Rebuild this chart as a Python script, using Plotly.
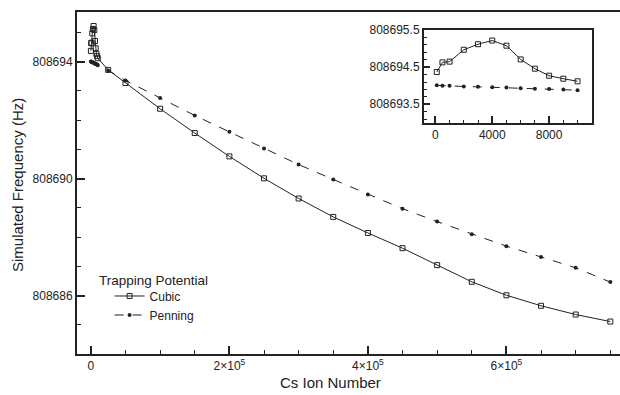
import plotly.graph_objects as go

# ---- data ----
n_small = [100, 500, 1000, 2000, 3000, 4000, 5000, 6000, 7000, 8000, 9000, 10000]
cubic_small = [808694.37, 808694.63, 808694.65, 808694.97, 808695.12, 808695.22,
               808695.08, 808694.71, 808694.46, 808694.27, 808694.19, 808694.12]
penning_small = [808694.01, 808694.00, 808694.00, 808693.98, 808693.97, 808693.96,
                 808693.95, 808693.93, 808693.92, 808693.91, 808693.90, 808693.88]

n_large = [25000, 50000, 100000, 150000, 200000, 250000, 300000, 350000, 400000,
           450000, 500000, 550000, 600000, 650000, 700000, 750000]
cubic_large = [808693.72, 808693.27, 808692.39, 808691.56, 808690.76, 808690.01,
               808689.32, 808688.69, 808688.14, 808687.62, 808687.04, 808686.47,
               808686.01, 808685.65, 808685.35, 808685.11]
penning_large = [808693.70, 808693.36, 808692.76, 808692.16, 808691.60, 808691.03,
                 808690.48, 808689.97, 808689.46, 808688.97, 808688.53, 808688.10,
                 808687.69, 808687.32, 808686.95, 808686.46]

x_tickvals = [0, 200000, 400000, 600000]
x_ticktext = ["0", "2×10<sup>5</sup>", "4×10<sup>5</sup>", "6×10<sup>5</sup>"]
y_tickvals = [808686, 808690, 808694]
inset_x_tickvals = [0, 4000, 8000]
inset_y_tickvals = [808693.5, 808694.5, 808695.5]

FONT = "Liberation Sans, Arial, sans-serif"
INK = "#222222"

n_all = n_small + n_large
cubic_all = cubic_small + cubic_large
penning_all = penning_small + penning_large

fig = go.Figure()

cubic_style = dict(mode="lines+markers", line=dict(color=INK, width=1),
                   marker=dict(symbol="square-open", size=5, color=INK,
                               line=dict(width=1, color=INK)))
penning_style = dict(mode="lines+markers", line=dict(color=INK, width=1, dash="dash"),
                     marker=dict(symbol="circle", size=4, color=INK))

fig.add_trace(go.Scatter(x=n_all, y=cubic_all, name="Cubic", **cubic_style))
fig.add_trace(go.Scatter(x=n_all, y=penning_all, name="Penning", **penning_style))
fig.add_trace(go.Scatter(x=n_small, y=cubic_small, showlegend=False,
                         xaxis="x2", yaxis="y2", **cubic_style))
fig.add_trace(go.Scatter(x=n_small, y=penning_small, showlegend=False,
                         xaxis="x2", yaxis="y2", **penning_style))

axis_common = dict(showline=True, linecolor=INK, linewidth=2, ticks="inside",
                   tickcolor=INK, showgrid=False, zeroline=False, automargin=False,
                   tickfont=dict(family=FONT, size=12, color=INK))

W, H = 620, 395
L, T, B = 77, 12, 41
plot_w, plot_h = W - L, H - T - B

fig.update_layout(
    width=W, height=H,
    margin=dict(l=L, r=0, t=T, b=B),
    paper_bgcolor="white", plot_bgcolor="white",
    font=dict(family=FONT, color=INK),
    xaxis=dict(domain=[0, 1], range=[-20000, 764000], tickvals=x_tickvals,
               ticktext=x_ticktext, ticklen=8, tickwidth=2, mirror=True,
               minor=dict(dtick=50000, tick0=0, ticks="inside", ticklen=4,
                          tickcolor=INK, tickwidth=1),
               **axis_common),
    yaxis=dict(domain=[0, 1], range=[808684.0, 808695.7], tickvals=y_tickvals,
               ticklen=8, tickwidth=2, tickformat="d",
               minor=dict(dtick=1, tick0=808686, ticks="inside", ticklen=4,
                          tickcolor=INK, tickwidth=1),
               **axis_common),
    xaxis2=dict(domain=[0.639, 0.948], anchor="y2", range=[-800, 11000],
                tickvals=inset_x_tickvals, ticklen=7, tickwidth=2, mirror=True,
                minor=dict(dtick=1000, tick0=0, ticks="inside", ticklen=3,
                           tickcolor=INK, tickwidth=1),
                **axis_common),
    yaxis2=dict(domain=[0.676, 0.947], anchor="x2", range=[808693.0, 808695.5],
                tickvals=inset_y_tickvals, ticklen=6, tickwidth=2, mirror=True,
                tickformat=".1f",
                minor=dict(dtick=0.2, tick0=808693.5, ticks="inside", ticklen=3,
                           tickcolor=INK, tickwidth=1),
                **axis_common),
    legend=dict(x=0.06, y=0.212, xanchor="left", yanchor="top",
                bgcolor="rgba(0,0,0,0)", font=dict(family=FONT, size=12, color=INK),
                tracegroupgap=0, itemwidth=30),
)

fig.add_annotation(text="Trapping Potential", xref="paper", yref="paper",
                   x=(97 - 77) / plot_w, y=(354 - 280) / plot_h,
                   xanchor="left", yanchor="middle", showarrow=False,
                   font=dict(family=FONT, size=13.5, color=INK))
fig.add_annotation(text="Cs Ion Number", xref="paper", yref="paper",
                   x=(330 - 77) / plot_w, y=(354 - 382) / plot_h,
                   xanchor="center", yanchor="middle", showarrow=False,
                   font=dict(family=FONT, size=15, color=INK))
fig.add_annotation(text="Simulated Frequency (Hz)", xref="paper", yref="paper",
                   x=(18 - 77) / plot_w, y=(354 - 185) / plot_h, textangle=-90,
                   showarrow=False, xanchor="center", yanchor="middle",
                   font=dict(family=FONT, size=15, color=INK))

fig.write_html("out.html", config={"displayModeBar": False},
               post_script="document.body.style.margin='0';document.body.style.overflow='hidden';")
